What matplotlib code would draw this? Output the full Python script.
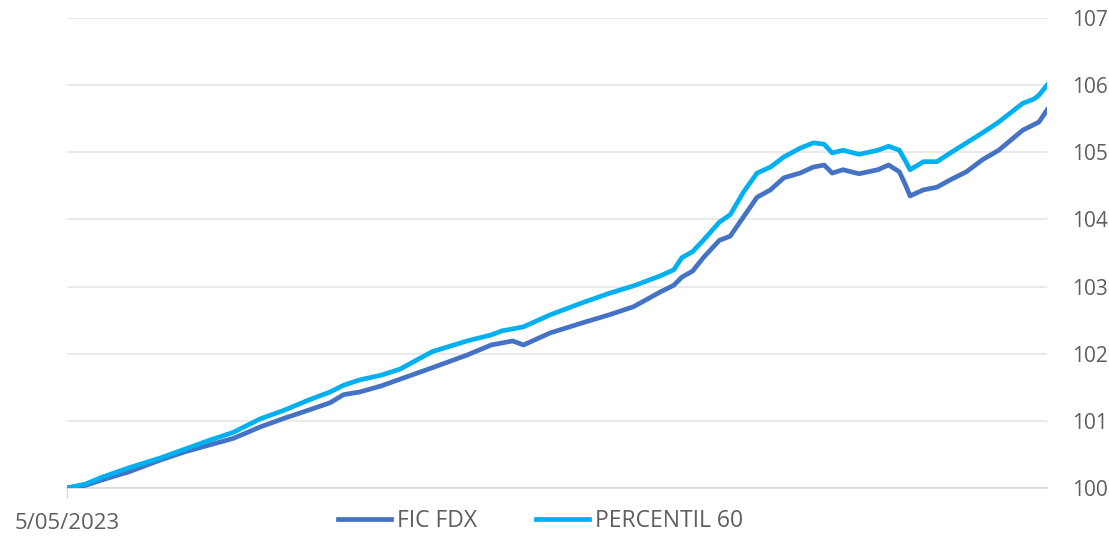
import numpy as np
import pandas as pd
import matplotlib
matplotlib.use("Agg")
import matplotlib.pyplot as plt

plt.rcParams['font.family'] = ['Open Sans', 'DejaVu Sans']

# días desde el 5/05/2023 (lecturas aproximadas del gráfico)
start = pd.Timestamp("2023-05-05")
days = [0, 7, 13, 23, 35, 44, 53, 62, 72, 81, 90, 98, 103, 109, 117, 124,
        136, 149, 158, 162, 166, 170, 180, 192, 202, 211, 221, 226, 229, 233,
        237, 243, 247, 252, 257, 262, 267, 273, 278, 282, 285, 289, 295, 302,
        306, 310, 312, 314, 319, 324, 329, 335, 341, 347, 356, 360, 362, 365]

fic_fdx = [100.00, 100.04, 100.12, 100.24, 100.42, 100.54, 100.64, 100.74,
           100.91, 101.04, 101.16, 101.27, 101.39, 101.43, 101.52, 101.62,
           101.79, 101.98, 102.13, 102.16, 102.19, 102.13, 102.31, 102.46,
           102.58, 102.70, 102.92, 103.02, 103.14, 103.23, 103.43, 103.69,
           103.75, 104.04, 104.33, 104.44, 104.62, 104.69, 104.78, 104.81,
           104.69, 104.74, 104.68, 104.74, 104.81, 104.71, 104.54, 104.35,
           104.44, 104.48, 104.59, 104.71, 104.89, 105.03, 105.33, 105.41,
           105.45, 105.63]

percentil_60 = [100.00, 100.06, 100.16, 100.30, 100.45, 100.58, 100.71, 100.83,
                101.03, 101.16, 101.31, 101.43, 101.53, 101.61, 101.68, 101.77,
                102.03, 102.19, 102.28, 102.34, 102.37, 102.40, 102.58, 102.76,
                102.90, 103.01, 103.16, 103.25, 103.43, 103.52, 103.69, 103.96,
                104.07, 104.41, 104.69, 104.78, 104.93, 105.06, 105.14, 105.12,
                104.99, 105.03, 104.97, 105.03, 105.09, 105.03, 104.89, 104.74,
                104.86, 104.86, 104.99, 105.14, 105.29, 105.45, 105.73, 105.79,
                105.85, 106.00]

y_ticks = [100, 101, 102, 103, 104, 105, 106, 107]

dates = [start + pd.Timedelta(days=d) for d in days]

fig = plt.figure(figsize=(11.09, 5.40), dpi=100)
ax = fig.add_axes([0.0604, 0.0963, 0.8837, 0.8704])

ax.plot(dates, fic_fdx, color="#4472C4", lw=3.4, label="FIC FDX",
        solid_joinstyle="round", zorder=3)
ax.plot(dates, percentil_60, color="#00B0F0", lw=3.4, label="PERCENTIL 60",
        solid_joinstyle="round", zorder=3)

ax.set_ylim(100, 107)
ax.set_xlim(dates[0], dates[-1])
ax.set_yticks(y_ticks)
ax.yaxis.tick_right()
ax.tick_params(axis="y", length=0, pad=18, labelsize=15, labelcolor="#605e5c")
ax.grid(axis="y", color="#e6e6e6", lw=1.2, zorder=0)

ax.set_xticks([dates[0]])
ax.set_xticklabels(["5/05/2023"])
ax.tick_params(axis="x", length=7, width=1, color="#d9d9d9", pad=11,
               labelsize=16, labelcolor="#605e5c")

for s in ["top", "left", "right"]:
    ax.spines[s].set_visible(False)
ax.spines["bottom"].set_color("#d9d9d9")
ax.spines["bottom"].set_linewidth(1.2)

leg = fig.legend(*ax.get_legend_handles_labels(), loc="center left",
                 bbox_to_anchor=(0.305, 0.035), ncol=2, frameon=False,
                 fontsize=16.5, handlelength=2.3, columnspacing=2.6,
                 handletextpad=0.25, borderpad=0, borderaxespad=0)
for t in leg.get_texts():
    t.set_color("#605e5c")

fig.savefig("out.png", dpi=100)
